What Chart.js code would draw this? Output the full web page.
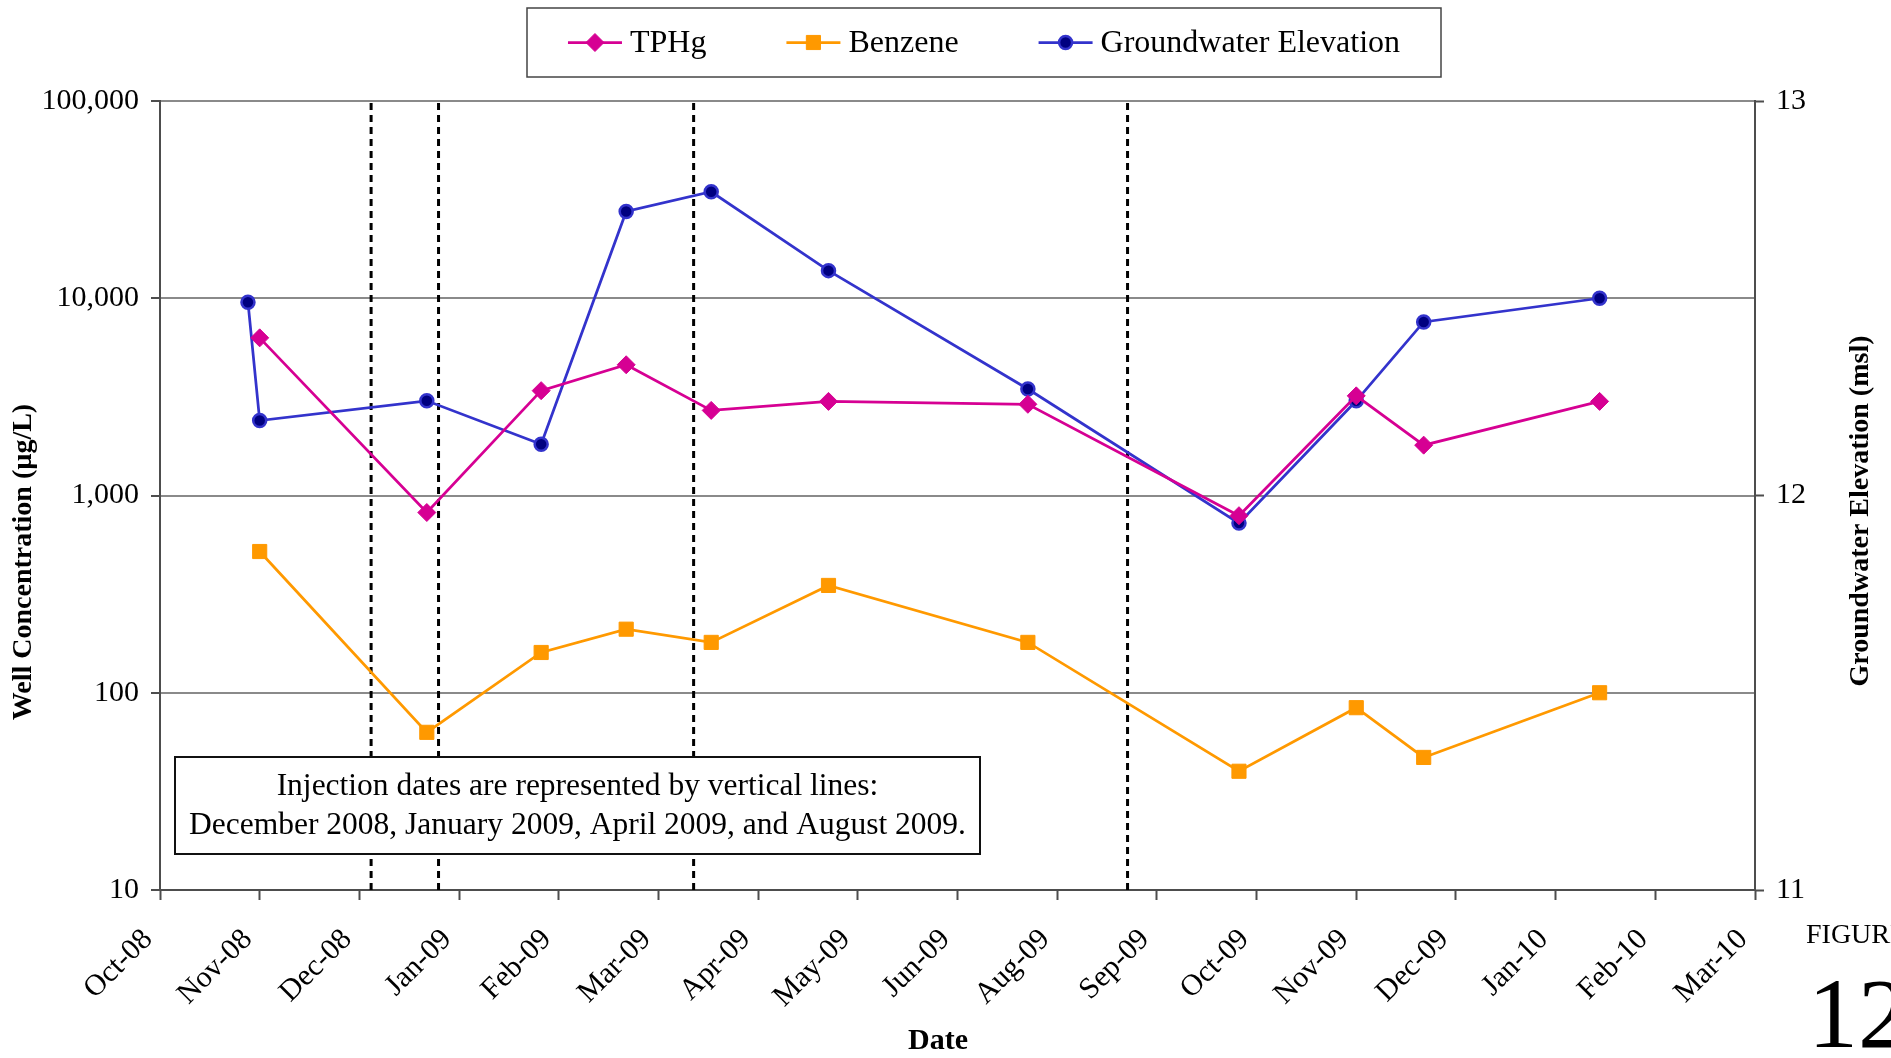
<!DOCTYPE html>
<html lang="en">
<head>
<meta charset="UTF-8">
<title>Figure 12 - Well Concentrations and Groundwater Elevation</title>
<script src="https://cdn.jsdelivr.net/npm/chart.js"></script>
<style>
    html, body { margin: 0; padding: 0; background: #fff; }
    #wrap { width: 1891px; height: 1058px; }
</style>
</head>
<body>
<div id="wrap"><canvas id="grafica" width="1891" height="1058"></canvas></div>
<script>
    // x axis is counted in days from the axis start, one tick every 34 days
    const axisStart = '2008-10-01';
    const tickStep = 34;
    const xLabels = ['Oct-08', 'Nov-08', 'Dec-08', 'Jan-09', 'Feb-09', 'Mar-09', 'Apr-09', 'May-09', 'Jun-09',
                     'Aug-09', 'Sep-09', 'Oct-09', 'Nov-09', 'Dec-09', 'Jan-10', 'Feb-10', 'Mar-10'];
    const concTicks = [10, 100, 1000, 10000, 100000];
    const elevTicks = [11, 12, 13];

    // sampling events
    const sampleDates = ['2008-11-04', '2008-12-31', '2009-02-08', '2009-03-09', '2009-04-07', '2009-05-17',
                         '2009-07-24', '2009-10-04', '2009-11-13', '2009-12-06', '2010-02-04'];
    const tphg = [6300, 820, 3400, 4600, 2700, 3000, 2900, 790, 3200, 1800, 3000];
    const benzene = [520, 63, 160, 210, 180, 350, 180, 40, 84, 47, 100];

    const gwDates = ['2008-10-31', '2008-11-04', '2008-12-31', '2009-02-08', '2009-03-09', '2009-04-07',
                     '2009-05-17', '2009-07-24', '2009-10-04', '2009-11-13', '2009-12-06', '2010-02-04'];
    const gwElev = [12.49, 12.19, 12.24, 12.13, 12.72, 12.77, 12.57, 12.27, 11.93, 12.24, 12.44, 12.50];

    const injectionDates = ['2008-12-12', '2009-01-04', '2009-04-01', '2009-08-27'];
    const noteLines = ['Injection dates are represented by vertical lines:',
                       'December 2008, January 2009, April 2009, and August 2009.'];

    const serif = "'Liberation Serif', 'Times New Roman', serif";
    Chart.defaults.font.family = serif;
    Chart.defaults.color = '#000';

    const day0 = Date.parse(axisStart);
    const toDay = s => (Date.parse(s) - day0) / 864e5;
    const pts = (dates, vals) => dates.map((d, i) => ({ x: toDay(d), y: vals[i] }));

    const axisColor = '#4d4d4d';

    // the dashed injection lines are plain two point datasets
    const injectionSets = injectionDates.map(d => ({
        label: 'injection',
        data: [{ x: toDay(d), y: concTicks[0] }, { x: toDay(d), y: concTicks[concTicks.length - 1] }],
        borderColor: '#000',
        borderWidth: 3,
        borderDash: [7, 5],
        pointRadius: 0,
        yAxisID: 'y',
        order: 10
    }));

    const series = [
        {
            label: 'TPHg', data: pts(sampleDates, tphg), yAxisID: 'y', order: 1,
            borderColor: '#D60093', backgroundColor: '#D60093', borderWidth: 2.75,
            pointStyle: 'rectRot', pointRadius: 9, pointBorderWidth: 1,
            pointBackgroundColor: '#D60093', pointBorderColor: '#D60093'
        },
        {
            label: 'Benzene', data: pts(sampleDates, benzene), yAxisID: 'y', order: 2,
            borderColor: '#FF9900', backgroundColor: '#FF9900', borderWidth: 2.75,
            pointStyle: 'rect', pointRadius: 10, pointBorderWidth: 1,
            pointBackgroundColor: '#FF9900', pointBorderColor: '#FF9900'
        },
        {
            label: 'Groundwater Elevation', data: pts(gwDates, gwElev), yAxisID: 'y2', order: 3,
            borderColor: '#3333CC', backgroundColor: '#000080', borderWidth: 2.75,
            pointStyle: 'circle', pointRadius: 6.5, pointBorderWidth: 2.5,
            pointBackgroundColor: '#000080', pointBorderColor: '#3333CC'
        }
    ];

    function marker(ctx, ds, x, y) {
        ctx.save();
        ctx.fillStyle = ds.pointBackgroundColor;
        ctx.strokeStyle = ds.pointBorderColor;
        ctx.lineWidth = ds.pointBorderWidth;
        Chart.helpers.drawPoint(ctx, { pointStyle: ds.pointStyle, radius: ds.pointRadius, rotation: 0, borderWidth: ds.pointBorderWidth }, x, y);
        ctx.restore();
    }

    // legend box, note box, axis titles and figure number
    const extras = {
        id: 'extras',
        afterDatasetsDraw(chart) {
            const { ctx, chartArea: a } = chart;
            const bx = a.left + 15, by = a.bottom - 133, bw = 805, bh = 97;
            ctx.save();
            ctx.fillStyle = '#fff';
            ctx.fillRect(bx, by, bw, bh);
            ctx.strokeStyle = '#111';
            ctx.lineWidth = 2;
            ctx.strokeRect(bx, by, bw, bh);
            ctx.fillStyle = '#000';
            ctx.font = '31.5px ' + serif;
            ctx.textAlign = 'center';
            ctx.textBaseline = 'middle';
            ctx.fillText(noteLines[0], bx + bw / 2, by + 30);
            ctx.fillText(noteLines[1], bx + bw / 2, by + 69);
            ctx.restore();
        },
        afterDraw(chart) {
            const { ctx, chartArea: a } = chart;
            ctx.save();

            // legend
            const lx = 527, ly = 8, lw = 914, lh = 69;
            ctx.strokeStyle = '#444';
            ctx.lineWidth = 1.5;
            ctx.strokeRect(lx, ly, lw, lh);
            ctx.font = '32px ' + serif;
            ctx.textBaseline = 'middle';
            ctx.textAlign = 'left';
            const lineLen = 54, gapText = 8, gapItem = 80;
            const widths = series.map(s => ctx.measureText(s.label).width);
            const total = widths.reduce((p, w) => p + w + lineLen + gapText, 0) + gapItem * (series.length - 1);
            let x = lx + (lw - total) / 2;
            const cy = ly + lh / 2;
            series.forEach((s, i) => {
                ctx.strokeStyle = s.borderColor;
                ctx.lineWidth = s.borderWidth;
                ctx.beginPath();
                ctx.moveTo(x, cy);
                ctx.lineTo(x + lineLen, cy);
                ctx.stroke();
                marker(ctx, s, x + lineLen / 2, cy);
                ctx.fillStyle = '#000';
                ctx.fillText(s.label, x + lineLen + gapText, cy + 1);
                x += lineLen + gapText + widths[i] + gapItem;
            });

            // axis titles (vertical ones both read bottom to top)
            ctx.font = 'bold 28px ' + serif;
            ctx.textAlign = 'center';
            ctx.fillStyle = '#000';
            ctx.save();
            ctx.translate(24, 562);
            ctx.rotate(-Math.PI / 2);
            ctx.fillText('Well Concentration (µg/L)', 0, 0);
            ctx.restore();
            ctx.save();
            ctx.translate(1861, 511);
            ctx.rotate(-Math.PI / 2);
            ctx.fillText('Groundwater Elevation (msl)', 0, 0);
            ctx.restore();
            ctx.font = 'bold 30px ' + serif;
            ctx.fillText('Date', 938, 1041);

            // figure number in the corner
            ctx.textAlign = 'left';
            ctx.textBaseline = 'alphabetic';
            ctx.font = '28px ' + serif;
            ctx.fillText('FIGURE', 1806, 943);
            ctx.font = '100px ' + serif;
            ctx.fillText('12', 1808, 1047);
            ctx.restore();
        }
    };

    new Chart(document.getElementById('grafica'), {
        type: 'line',
        data: { datasets: [...series, ...injectionSets] },
        options: {
            responsive: false,
            animation: false,
            layout: { padding: { top: 101, left: 0, right: 0, bottom: 0 } },
            elements: { line: { tension: 0, fill: false } },
            plugins: { legend: { display: false }, tooltip: { enabled: false } },
            scales: {
                x: {
                    type: 'linear',
                    min: 0,
                    max: tickStep * (xLabels.length - 1),
                    ticks: {
                        stepSize: tickStep,
                        maxTicksLimit: 40,
                        autoSkip: false,
                        minRotation: 45,
                        maxRotation: 45,
                        padding: 22,
                        labelOffset: -12,
                        font: { size: 30 },
                        callback: v => xLabels[Math.round(v / tickStep)]
                    },
                    grid: { drawOnChartArea: false, drawTicks: true, tickLength: 10, tickColor: axisColor, tickWidth: 2 },
                    border: { color: axisColor, width: 2 },
                    afterFit: s => { s.height = 168; }
                },
                y: {
                    type: 'logarithmic',
                    position: 'left',
                    min: concTicks[0],
                    max: concTicks[concTicks.length - 1],
                    afterBuildTicks: s => { s.ticks = concTicks.map(v => ({ value: v })); },
                    ticks: { padding: 12, font: { size: 30 }, callback: v => Number(v).toLocaleString('en-US') },
                    grid: { color: '#8a8a8a', lineWidth: 2, tickLength: 9, tickColor: axisColor, tickWidth: 2 },
                    border: { color: axisColor, width: 2 },
                    afterFit: s => { s.width = 160; }
                },
                y2: {
                    type: 'linear',
                    position: 'right',
                    min: elevTicks[0],
                    max: elevTicks[elevTicks.length - 1],
                    afterBuildTicks: s => { s.ticks = elevTicks.map(v => ({ value: v })); },
                    ticks: { padding: 12, font: { size: 30 } },
                    grid: { drawOnChartArea: false, tickLength: 9, tickColor: axisColor, tickWidth: 2 },
                    border: { color: axisColor, width: 2 },
                    afterFit: s => { s.width = 136; }
                }
            }
        },
        plugins: [extras]
    });
</script>
</body>
</html>
